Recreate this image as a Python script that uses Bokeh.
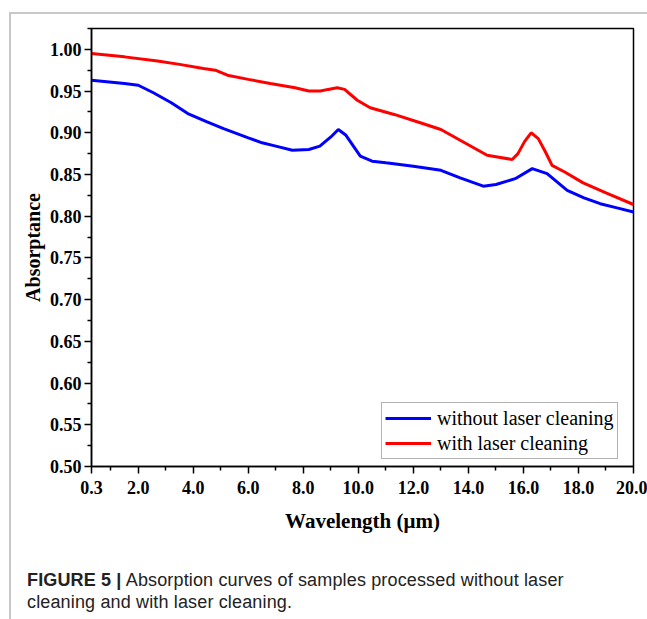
from bokeh.plotting import figure
from bokeh.models import Range1d, FixedTicker, Legend, LegendItem, Div
from bokeh.layouts import column
from bokeh.embed import file_html
from bokeh.resources import INLINE

# Data
x_blue = [0.3, 1.5, 2.0, 2.55, 3.2, 3.8, 4.5, 5.1, 6.0, 6.5, 7.0, 7.6, 8.2, 8.6, 9.0, 9.27, 9.55,
          10.07, 10.5, 11.0, 12.0, 13.0, 13.7, 14.54, 15.0, 15.7, 16.32, 16.86, 17.59, 18.2, 18.79, 19.4, 20.0]
y_blue = [0.963, 0.959, 0.957, 0.948, 0.936, 0.923, 0.913, 0.905, 0.894, 0.888, 0.884, 0.879, 0.880, 0.884,
          0.895, 0.904, 0.897, 0.872, 0.866, 0.864, 0.860, 0.855, 0.846, 0.836, 0.838, 0.845, 0.857, 0.851,
          0.831, 0.822, 0.815, 0.810, 0.805]

x_red = [0.3, 1.5, 2.7, 3.5, 4.37, 4.8, 5.24, 6.0, 6.8, 7.7, 8.2, 8.62, 8.9, 9.23, 9.5, 9.96, 10.43, 11.3,
         12.25, 13.0, 13.7, 14.68, 15.59, 15.8, 16.05, 16.28, 16.54, 16.8, 17.04, 17.5, 18.17, 19.0, 20.0]
y_red = [0.995, 0.991, 0.986, 0.982, 0.977, 0.975, 0.969, 0.964, 0.959, 0.954, 0.950, 0.950, 0.952, 0.954,
         0.952, 0.939, 0.930, 0.922, 0.912, 0.904, 0.891, 0.873, 0.868, 0.875, 0.890, 0.900, 0.893, 0.877,
         0.861, 0.853, 0.840, 0.828, 0.814]

x_ticks = [0.3, 2, 4, 6, 8, 10, 12, 14, 16, 18, 20]
x_tick_labels = ["0.3", "2.0", "4.0", "6.0", "8.0", "10.0", "12.0", "14.0", "16.0", "18.0", "20.0"]
x_minor = [1, 3, 5, 7, 9, 11, 13, 15, 17, 19]
y_ticks = [0.50, 0.55, 0.60, 0.65, 0.70, 0.75, 0.80, 0.85, 0.90, 0.95, 1.00]
y_minor = [0.525, 0.575, 0.625, 0.675, 0.725, 0.775, 0.825, 0.875, 0.925, 0.975, 1.025]

series_names = ["without laser cleaning", "with laser cleaning"]
x_label = "Wavelength (\u03bcm)"
y_label = "Absorptance"

SERIF = "Liberation Serif"

p = figure(frame_width=542, frame_height=438, output_backend="svg", toolbar_location=None,
           x_range=Range1d(0.3, 20.0), y_range=Range1d(0.5, 1.025),
           min_border_left=80, min_border_right=14, min_border_top=14, min_border_bottom=82)
p.background_fill_color = "white"
p.border_fill_color = "white"
p.outline_line_color = "black"
p.outline_line_width = 1.5
p.grid.visible = False

r_blue = p.line(x_blue, y_blue, line_color="#0000ff", line_width=3)
r_red = p.line(x_red, y_red, line_color="#ff0000", line_width=3)

p.xaxis.ticker = FixedTicker(ticks=x_ticks, minor_ticks=x_minor)
p.xaxis.major_label_overrides = {t: l for t, l in zip(x_ticks, x_tick_labels)}
p.yaxis.ticker = FixedTicker(ticks=y_ticks, minor_ticks=y_minor)
p.yaxis.major_label_overrides = {t: "%.2f" % t for t in y_ticks}

for ax in (p.xaxis[0], p.yaxis[0]):
    ax.axis_line_color = "black"
    ax.axis_line_width = 1.5
    ax.major_tick_line_color = "black"
    ax.major_tick_line_width = 1.5
    ax.minor_tick_line_color = "black"
    ax.minor_tick_line_width = 1.5
    ax.major_tick_in = 0
    ax.major_tick_out = 7
    ax.minor_tick_in = 0
    ax.minor_tick_out = 4
    ax.major_label_text_font = SERIF
    ax.major_label_text_font_style = "bold"
    ax.major_label_text_font_size = "18px"
    ax.major_label_text_color = "black"
    ax.axis_label_text_font = SERIF
    ax.axis_label_text_font_style = "bold"
    ax.axis_label_text_color = "black"

p.xaxis.axis_label = x_label
p.yaxis.axis_label = y_label
p.xaxis.axis_label_text_font_size = "21px"
p.yaxis.axis_label_text_font_size = "20px"
p.xaxis.major_label_standoff = 7
p.yaxis.major_label_standoff = 3
p.xaxis.axis_label_standoff = 12
p.yaxis.axis_label_standoff = 3

legend = Legend(items=[LegendItem(label=series_names[0], renderers=[r_blue]),
                       LegendItem(label=series_names[1], renderers=[r_red])],
                location=(290, 7))
legend.label_text_font = SERIF
legend.label_text_font_size = "20px"
legend.label_text_color = "black"
legend.glyph_width = 46
legend.glyph_height = 24
legend.label_height = 24
legend.label_standoff = 6
legend.padding = 3
legend.spacing = 1
legend.margin = 0
legend.border_line_color = "#666666"
legend.border_line_width = 1
legend.background_fill_alpha = 1
p.add_layout(legend)

caption = Div(text='<span style="font-weight:bold">FIGURE 5 |</span> Absorption curves of samples processed without laser<br>cleaning and with laser cleaning.',
              width=630, height=70,
              styles={"font-family": "Liberation Sans, Arial, sans-serif", "font-size": "18px",
                      "letter-spacing": "0.15px",
                      "line-height": "22px", "color": "#222222", "padding-top": "16px",
                      "padding-left": "11px", "box-sizing": "border-box"})

layout = column(p, caption, spacing=0,
                styles={"border-top": "2px solid #c8c8c8", "border-left": "2px solid #c8c8c8",
                        "margin-left": "9px", "margin-top": "12px"})

open("out.html", "w").write(file_html(layout, INLINE))
